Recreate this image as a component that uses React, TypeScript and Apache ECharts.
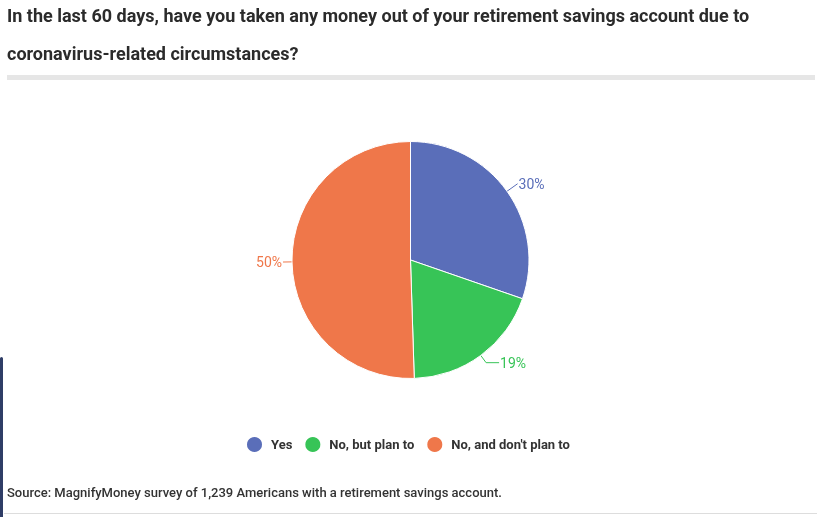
import React, { useEffect, useRef } from "react";
import * as echarts from "echarts";

const titleLines = [
  "In the last 60 days, have you taken any money out of your retirement savings account due to",
  "coronavirus-related circumstances?",
];
const sourceText =
  "Source: MagnifyMoney survey of 1,239 Americans with a retirement savings account.";

const categories = ["Yes", "No, but plan to", "No, and don't plan to"];
const shares = [30, 19, 50];
const colors = ["#5a6eb9", "#37c457", "#ef774a"];
// leader line lengths per slice [radial, horizontal]
const leaderLines = [
  [13, 0],
  [9, 13],
  [9, 0],
];

// squeeze a line of text so Roboto looks like the condensed face of the original
const fitScale = (text: string, font: string, width: number) => {
  const ctx = document.createElement("canvas").getContext("2d");
  if (!ctx) return 1;
  ctx.font = font;
  const w = ctx.measureText(text).width;
  return w > 0 ? Math.min(1, width / w) : 1;
};

const App = () => {
  const chartRef = useRef<HTMLDivElement>(null);

  useEffect(() => {
    if (!chartRef.current) return;
    const myChart = echarts.init(chartRef.current, null, { renderer: "svg" });

    const titleFont = "bold 18px Roboto";
    const titleScale = fitScale(titleLines[0], titleFont, 744);
    const sourceFont = "500 13px Roboto";
    const sourceScale = fitScale(sourceText, sourceFont, 497);

    const option = {
      animation: false,
      graphic: [
        {
          type: "text",
          x: 7,
          y: 6,
          scaleX: titleScale,
          style: {
            text: titleLines[0],
            font: titleFont,
            fill: "#2b2b2b",
          },
        },
        {
          type: "text",
          x: 7,
          y: 44,
          scaleX: titleScale,
          style: {
            text: titleLines[1],
            font: titleFont,
            fill: "#2b2b2b",
          },
        },
        {
          type: "rect",
          shape: { x: 7, y: 75, width: 808, height: 5 },
          style: { fill: "#e6e6e6" },
        },
        {
          type: "text",
          x: 7,
          y: 486,
          scaleX: sourceScale,
          style: {
            text: sourceText,
            font: sourceFont,
            fill: "#333333",
          },
        },
        {
          type: "rect",
          shape: { x: 4, y: 513, width: 813, height: 1 },
          style: { fill: "#dddddd" },
        },
        {
          type: "rect",
          shape: { x: 0, y: 357, width: 3, height: 160, r: [2, 2, 0, 0] },
          style: { fill: "#2f3d66" },
        },
      ],
      legend: {
        left: 245,
        top: 435,
        padding: 0,
        icon: "circle",
        itemWidth: 17,
        itemHeight: 17,
        itemGap: 11,
        data: categories,
        textStyle: {
          fontFamily: "Roboto",
          fontSize: 13,
          fontWeight: "bold",
          color: "#333333",
          padding: [0, 0, 0, 3],
        },
      },
      series: [
        {
          type: "pie",
          center: [410.5, 260],
          radius: 118.5,
          startAngle: 90,
          clockwise: true,
          itemStyle: { borderColor: "#ffffff", borderWidth: 1 },
          label: {
            show: true,
            formatter: "{c}%",
            fontFamily: "Roboto",
            fontSize: 14,
            distanceToLabelLine: 1,
          },
          labelLine: { lineStyle: { width: 1 } },
          emphasis: { disabled: true },
          data: categories.map((name, i) => ({
            name,
            value: shares[i],
            itemStyle: { color: colors[i] },
            label: { color: colors[i] },
            labelLine: { length: leaderLines[i][0], length2: leaderLines[i][1] },
          })),
        },
      ],
    };

    myChart.setOption(option);
    return () => {
      myChart.dispose();
    };
  }, []);

  return (
    <div
      ref={chartRef}
      style={{ position: "fixed", left: 0, top: 0, width: 817, height: 517 }}
    />
  );
};

export default App;
